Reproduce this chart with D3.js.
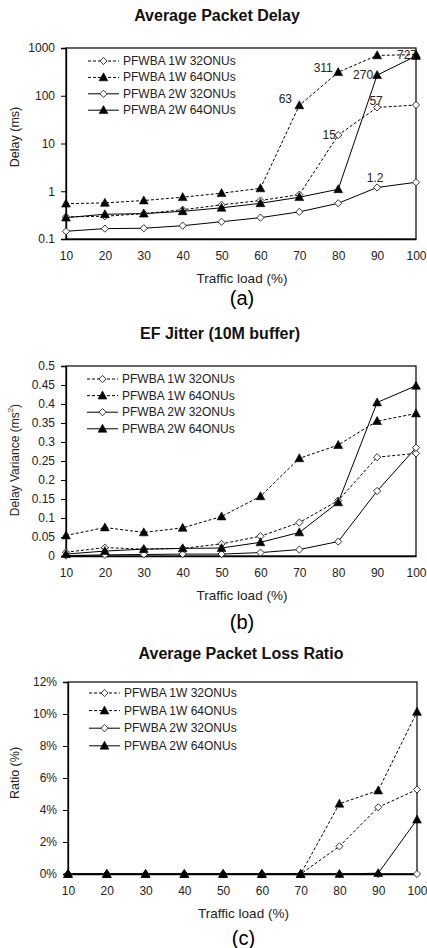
<!DOCTYPE html>
<html><head><meta charset="utf-8">
<script src="https://cdn.jsdelivr.net/npm/d3@7"></script>
<style>body{margin:0;background:#fff}svg{display:block}text{font-family:"Liberation Sans",Arial,sans-serif}</style>
</head><body>
<script>
const loads = [10,20,30,40,50,60,70,80,90,100];
const seriesNames = ["PFWBA 1W 32ONUs","PFWBA 1W 64ONUs","PFWBA 2W 32ONUs","PFWBA 2W 64ONUs"];
// Chart (a) Average Packet Delay (ms)
const delay1W32 = [0.29,0.30,0.34,0.41,0.52,0.64,0.85,15,57,64];
const delay1W64 = [0.55,0.57,0.64,0.75,0.91,1.15,63,311,700,727];
const delay2W32 = [0.145,0.165,0.168,0.19,0.23,0.28,0.37,0.56,1.2,1.54];
const delay2W64 = [0.28,0.33,0.34,0.38,0.45,0.56,0.75,1.1,270,680];
const delayTicks = [0.1,1,10,100,1000];
const delayLabelSeries = [1,1,3,1,0,0,2];
const delayLabelIndex  = [6,7,8,9,7,8,8];
const delayLabelText   = ["63","311","270","727","15","57","1.2"];
// Chart (b) EF Jitter
const jitter1W32 = [0.010,0.022,0.018,0.020,0.032,0.052,0.088,0.146,0.26,0.27];
const jitter1W64 = [0.054,0.075,0.062,0.074,0.104,0.157,0.257,0.292,0.355,0.375];
const jitter2W32 = [0.001,0.003,0.004,0.005,0.005,0.009,0.017,0.038,0.171,0.285];
const jitter2W64 = [0.005,0.013,0.018,0.020,0.021,0.036,0.062,0.141,0.404,0.448];
const jitterTicks = [0,0.05,0.1,0.15,0.2,0.25,0.3,0.35,0.4,0.45,0.5];
// Chart (c) Average Packet Loss Ratio
const loss1W32 = [0,0,0,0,0,0,0,0.0173,0.0417,0.0528];
const loss1W64 = [0,0,0,0,0,0,0,0.0439,0.0522,0.1013];
const loss2W32 = [0,0,0,0,0,0,0,0,0,0];
const loss2W64 = [0,0,0,0,0,0,0,0,0.0005,0.034];
const lossTicks = [0,0.02,0.04,0.06,0.08,0.10,0.12];

const W = 427, H = 948;
const svg = d3.select("body").append("svg").attr("width",W).attr("height",H);

const dashed = [true,true,false,false];
const filled = [false,true,false,true];

function marker(g, x, y, isFilled){
  if(isFilled){
    g.append("path").attr("transform",`translate(${x},${y})`)
      .attr("d","M0,-4.6L4.4,3.4L-4.4,3.4Z").attr("fill","#000").attr("stroke","#000").attr("stroke-width",0.6);
  } else {
    g.append("path").attr("transform",`translate(${x},${y})`)
      .attr("d","M0,-3.6L3.6,0L0,3.6L-3.6,0Z").attr("fill","#fff").attr("stroke","#000").attr("stroke-width",0.8);
  }
}

function drawChart(cfg){
  const g = svg.append("g");
  const x = d3.scaleLinear().domain([10,100]).range([cfg.left,cfg.right]);
  const y = cfg.yScale.range([cfg.bottom,cfg.top]);
  // title
  g.append("text").attr("x",cfg.titleX).attr("y",cfg.titleY).attr("text-anchor","middle")
    .attr("dominant-baseline","central").attr("font-size",16).attr("font-weight","bold").attr("fill","#111").text(cfg.title);
  // plot border
  g.append("rect").attr("x",cfg.left).attr("y",cfg.top).attr("width",cfg.right-cfg.left).attr("height",cfg.bottom-cfg.top)
    .attr("fill","none").attr("stroke","#000").attr("stroke-width",1.2);
  // y axis
  const ya = g.append("g").attr("transform",`translate(${cfg.left},0)`)
    .call(d3.axisLeft(y).tickValues(cfg.ticks).tickFormat(cfg.fmt).tickSize(5).tickPadding(6));
  ya.select(".domain").attr("stroke","#000").attr("stroke-width",1.3);
  ya.selectAll("text").attr("font-size",12).attr("fill","#222").attr("font-family","Liberation Sans, Arial, sans-serif");
  // x axis
  const xa = g.append("g").attr("transform",`translate(0,${cfg.bottom})`)
    .call(d3.axisBottom(x).tickValues(loads).tickSize(0).tickPadding(12));
  xa.select(".domain").attr("stroke","#000").attr("stroke-width",1.3);
  xa.selectAll("text").attr("font-size",12).attr("fill","#222").attr("font-family","Liberation Sans, Arial, sans-serif");
  // axis titles
  g.append("text").attr("x",(cfg.left+cfg.right)/2+1).attr("y",cfg.xLabelY).attr("text-anchor","middle")
    .attr("dominant-baseline","central").attr("font-size",13.5).attr("fill","#222").text("Traffic load (%)");
  const yl = g.append("text").attr("transform",`translate(15,${cfg.yLabelY}) rotate(-90)`).attr("text-anchor","middle")
    .attr("dominant-baseline","central").attr("font-size",12.5).attr("fill","#222");
  if(cfg.yLabelSup){
    yl.attr("font-size",12);
    yl.append("tspan").text(cfg.yLabel);
    yl.append("tspan").attr("font-size",8).attr("dy",-5).text("2");
    yl.append("tspan").attr("dy",5).text(")");
  } else yl.text(cfg.yLabel);
  // caption
  g.append("text").attr("x",(cfg.left+cfg.right)/2+1).attr("y",cfg.capY).attr("text-anchor","middle")
    .attr("dominant-baseline","central").attr("font-size",20).attr("font-family","Liberation Serif, Times New Roman, serif").text(cfg.caption);
  // lines
  const line = d3.line().x((d,i)=>x(loads[i])).y(d=>y(d));
  cfg.data.forEach((s,k)=>{
    g.append("path").attr("d",line(s)).attr("fill","none").attr("stroke","#000")
      .attr("stroke-width",1).attr("stroke-dasharray",dashed[k]?"3,2":null);
  });
  // markers: draw diamonds first then triangles
  [0,2,1,3].forEach(k=>{
    cfg.data[k].forEach((v,i)=> marker(g, x(loads[i]), y(v), filled[k]));
  });
  // labels
  if(cfg.labels){
    cfg.labels.forEach(l=>{
      g.append("text").attr("x",x(loads[l.i])+l.dx).attr("y",y(cfg.data[l.s][l.i])+l.dy)
        .attr("text-anchor","middle").attr("dominant-baseline","central").attr("font-size",12).attr("fill","#222").text(l.t);
    });
  }
  // legend
  seriesNames.forEach((name,k)=>{
    const ly = cfg.legY + k*cfg.legStep;
    g.append("line").attr("x1",cfg.legX).attr("x2",cfg.legX+31).attr("y1",ly).attr("y2",ly)
      .attr("stroke","#000").attr("stroke-width",1).attr("stroke-dasharray",dashed[k]?"3,2":null);
    marker(g, cfg.legX+15.5, ly, filled[k]);
    g.append("text").attr("x",cfg.legX+35).attr("y",ly).attr("dominant-baseline","central")
      .attr("font-size",12).attr("fill","#222").text(name);
  });
}

const trim = d => String(+d.toFixed(2));
const labelOffsets = [[-14,-6],[-15,-4],[-14,0],[-9,0],[-9,0],[-1,-6],[-2,-9]];

drawChart({title:"Average Packet Delay",titleX:217,titleY:15,left:66,right:416,top:48,bottom:239,
  yScale:d3.scaleLog().domain([0.1,1000]),ticks:delayTicks,fmt:trim,
  xLabelY:278,yLabel:"Delay (ms)",yLabelY:137,capY:298,caption:"(a)",
  data:[delay1W32,delay1W64,delay2W32,delay2W64],
  labels:delayLabelText.map((t,j)=>({t,s:delayLabelSeries[j],i:delayLabelIndex[j],dx:labelOffsets[j][0],dy:labelOffsets[j][1]})),
  legX:88,legY:61,legStep:16.4});

drawChart({title:"EF Jitter (10M buffer)",titleX:220,titleY:333,left:66,right:416,top:366,bottom:556,
  yScale:d3.scaleLinear().domain([0,0.5]),ticks:jitterTicks,fmt:trim,
  xLabelY:595,yLabel:"Delay Variance (ms",yLabelSup:true,yLabelY:460,capY:622,caption:"(b)",
  data:[jitter1W32,jitter1W64,jitter2W32,jitter2W64],
  legX:87,legY:379,legStep:16.6});

drawChart({title:"Average Packet Loss Ratio",titleX:241,titleY:653,left:68,right:417,top:682,bottom:874,
  yScale:d3.scaleLinear().domain([0,0.12]),ticks:lossTicks,fmt:d3.format(".0%"),
  xLabelY:913,yLabel:"Ratio (%)",yLabelY:773,capY:938,caption:"(c)",
  data:[loss1W32,loss1W64,loss2W32,loss2W64],
  legX:89,legY:693,legStep:17.6});
</script>
</body></html>
